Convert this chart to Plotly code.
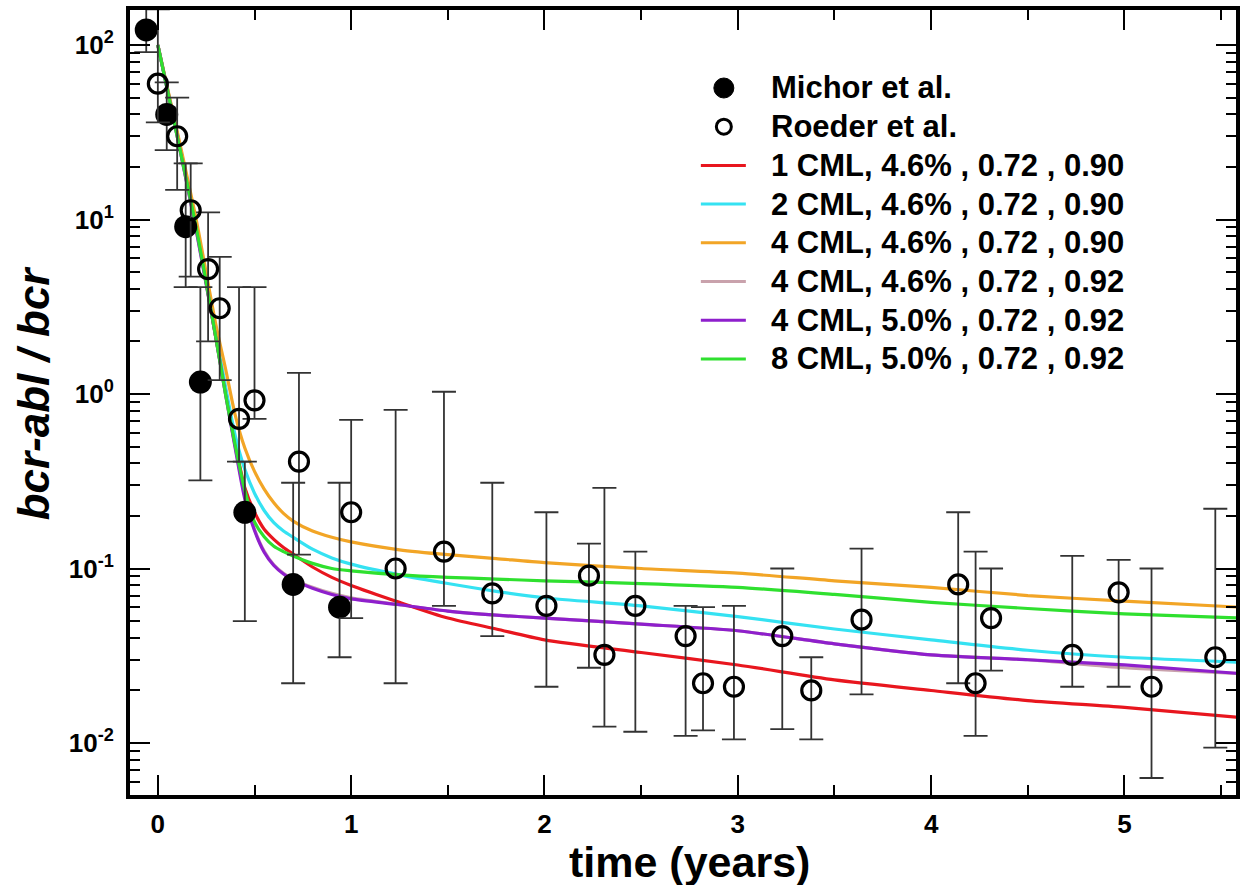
import plotly.graph_objects as go

# ---- measured data (time in years, bcr-abl / bcr ratio) ----
michor_t = [-0.06, 0.046, 0.144, 0.22, 0.45, 0.70, 0.94]
michor_y = [122, 40, 9.1, 1.17, 0.21, 0.081, 0.060]
michor_hi = [200, 61, 21, 4.1, 0.41, 0.31, 0.31]
michor_lo = [91, 25, 4.1, 0.32, 0.05, 0.022, 0.031]

roeder_t = [0.00, 0.10, 0.17, 0.26, 0.32, 0.42, 0.50, 0.73, 1.00, 1.23, 1.48, 1.73,
            2.01, 2.23, 2.31, 2.47, 2.73, 2.82, 2.98, 3.23, 3.38, 3.64, 4.14, 4.23,
            4.31, 4.73, 4.97, 5.14, 5.47]
roeder_y = [60, 30, 11.3, 5.2, 3.1, 0.72, 0.92, 0.41, 0.21, 0.10, 0.125, 0.072,
            0.061, 0.091, 0.032, 0.061, 0.041, 0.022, 0.021, 0.041, 0.020, 0.051, 0.081, 0.022,
            0.052, 0.032, 0.073, 0.021, 0.031]
roeder_hi = [160, 50, 21, 11, 6.1, 4.1, 4.1, 1.32, 0.71, 0.81, 1.03, 0.31,
             0.21, 0.139, 0.29, 0.125, 0.061, 0.060, 0.061, 0.10, 0.031, 0.13, 0.21, 0.125,
             0.10, 0.118, 0.112, 0.10, 0.22]
roeder_lo = [36, 14.8, 4.7, 2.0, 1.2, 0.41, 0.72, 0.12, 0.052, 0.022, 0.061, 0.041,
             0.021, 0.027, 0.0124, 0.0116, 0.011, 0.0118, 0.0105, 0.012, 0.0105, 0.019, 0.022, 0.011,
             0.026, 0.021, 0.021, 0.0063, 0.0094]

# ---- model curves ----
model_t = [0, 0.1, 0.2, 0.3, 0.35, 0.4, 0.45, 0.5, 0.55, 0.6, 0.65, 0.7, 0.8, 0.9, 1.0,
           1.25, 1.5, 1.75, 2.0, 2.5, 3.0, 3.5, 4.0, 4.5, 5.0, 5.6]
cml1_046_090 = [100, 31, 9.0, 2.1, 1.05, 0.52, 0.29, 0.21, 0.168, 0.147, 0.132, 0.121, 0.102, 0.089, 0.080,
                0.064, 0.052, 0.045, 0.039, 0.033, 0.028, 0.023, 0.020, 0.0175, 0.016, 0.014]
cml2_046_090 = [100, 31, 9.2, 2.2, 1.1, 0.58, 0.37, 0.27, 0.215, 0.183, 0.164, 0.151, 0.129, 0.115, 0.106,
                0.092, 0.082, 0.074, 0.068, 0.061, 0.053, 0.045, 0.039, 0.034, 0.031, 0.029]
cml4_046_090 = [100, 32, 9.8, 2.5, 1.4, 0.76, 0.49, 0.36, 0.285, 0.238, 0.207, 0.187, 0.164, 0.151, 0.142,
                0.128, 0.12, 0.114, 0.108, 0.100, 0.094, 0.085, 0.078, 0.070, 0.065, 0.060]
cml4_046_092 = [100, 30, 8.6, 2.1, 1.0, 0.50, 0.26, 0.168, 0.126, 0.105, 0.094, 0.087, 0.078, 0.072, 0.068,
                0.062, 0.057, 0.054, 0.052, 0.048, 0.044, 0.037, 0.032, 0.030, 0.027, 0.025]
cml4_050_092 = [100, 30, 8.5, 2.1, 1.0, 0.49, 0.25, 0.165, 0.124, 0.104, 0.093, 0.086, 0.077, 0.071, 0.067,
                0.062, 0.057, 0.054, 0.052, 0.048, 0.044, 0.037, 0.032, 0.030, 0.028, 0.025]
cml8_050_092 = [100, 30, 8.8, 2.1, 1.0, 0.51, 0.28, 0.185, 0.152, 0.134, 0.125, 0.118, 0.107, 0.100, 0.097,
                0.092, 0.089, 0.087, 0.085, 0.082, 0.078, 0.071, 0.064, 0.059, 0.055, 0.052]

curves = [
    ("4 CML, 4.6% , 0.72 , 0.92", cml4_046_092, "#c9a2ac"),
    ("1 CML, 4.6% , 0.72 , 0.90", cml1_046_090, "#e8161e"),
    ("2 CML, 4.6% , 0.72 , 0.90", cml2_046_090, "#35e2f2"),
    ("4 CML, 4.6% , 0.72 , 0.90", cml4_046_090, "#f2a526"),
    ("4 CML, 5.0% , 0.72 , 0.92", cml4_050_092, "#8e1fcc"),
    ("8 CML, 5.0% , 0.72 , 0.92", cml8_050_092, "#2fe02f"),
]
legend_order = [
    "Michor et al.", "Roeder et al.",
    "1 CML, 4.6% , 0.72 , 0.90", "2 CML, 4.6% , 0.72 , 0.90", "4 CML, 4.6% , 0.72 , 0.90",
    "4 CML, 4.6% , 0.72 , 0.92", "4 CML, 5.0% , 0.72 , 0.92", "8 CML, 5.0% , 0.72 , 0.92",
]

FONT = "Liberation Sans, Arial, sans-serif"
W, H = 1241, 885
ML, MR, MT, MB = 130, 1, 10, 90
PW, PH = W - ML - MR, H - MT - MB


def px_to_paper(px, py):
    return (px - ML) / PW, (H - MB - py) / PH


fig = go.Figure()

for name, vals, col in curves:
    fig.add_trace(go.Scatter(
        x=model_t, y=vals, mode="lines", name=name,
        line=dict(color=col, width=3.2, shape="spline", smoothing=0.7),
    ))

err_style = dict(type="data", symmetric=False, color="#333333", thickness=1.8, width=12)

fig.add_trace(go.Scatter(
    x=michor_t, y=michor_y, mode="markers", name="Michor et al.",
    marker=dict(symbol="circle", size=23, color="black"),
    error_y=dict(array=[h - v for h, v in zip(michor_hi, michor_y)],
                 arrayminus=[v - l for v, l in zip(michor_y, michor_lo)], **err_style),
))
fig.add_trace(go.Scatter(
    x=roeder_t, y=roeder_y, mode="markers", name="Roeder et al.",
    marker=dict(symbol="circle-open", size=19, color="black", line=dict(width=3.2, color="black")),
    error_y=dict(array=[h - v for h, v in zip(roeder_hi, roeder_y)],
                 arrayminus=[v - l for v, l in zip(roeder_y, roeder_lo)], **err_style),
))

# ---- legend block: key symbol + label per entry ----
curve_colors = {name: col for name, _, col in curves}
row0, row_step = 88, 38.7
key_x, text_x = 726, 771
for i, label in enumerate(legend_order):
    yrow = row0 + i * row_step
    kx, ky = px_to_paper(key_x, yrow)
    if label == "Michor et al.":
        fig.add_shape(type="circle", xref="paper", yref="paper", xsizemode="pixel", ysizemode="pixel",
                      xanchor=kx, yanchor=ky, x0=-10, x1=10, y0=-10, y1=10,
                      fillcolor="black", line=dict(color="black", width=1))
    elif label == "Roeder et al.":
        fig.add_shape(type="circle", xref="paper", yref="paper", xsizemode="pixel", ysizemode="pixel",
                      xanchor=kx, yanchor=ky, x0=-7.5, x1=7.5, y0=-7.5, y1=7.5,
                      fillcolor="rgba(0,0,0,0)", line=dict(color="black", width=3))
    else:
        fig.add_shape(type="line", xref="paper", yref="paper", xsizemode="pixel",
                      xanchor=kx, x0=-23, x1=22, y0=ky, y1=ky,
                      line=dict(color=curve_colors[label], width=3))
    tx, ty = px_to_paper(text_x, yrow)
    fig.add_annotation(x=tx, y=ty, xref="paper", yref="paper", xanchor="left", yanchor="middle",
                       text="<b>%s</b>" % label, showarrow=False,
                       font=dict(size=31, family=FONT, color="black"))

# ---- axis titles ----
xt, yt = px_to_paper(692, 862)
fig.add_annotation(x=xt, y=yt, xref="paper", yref="paper", xanchor="center", yanchor="middle",
                   text="<b>time (years)</b>", showarrow=False,
                   font=dict(size=43, family=FONT, color="black"))
xt, yt = px_to_paper(33, 393)
fig.add_annotation(x=xt, y=yt, xref="paper", yref="paper", xanchor="center", yanchor="middle",
                   text="<b><i>bcr-abl / bcr</i></b>", showarrow=False, textangle=-90,
                   font=dict(size=44, family=FONT, color="black"))

fig.update_layout(
    width=W, height=H,
    margin=dict(l=ML, r=MR, t=MT, b=MB),
    paper_bgcolor="white", plot_bgcolor="white",
    font=dict(family=FONT, color="black"),
    showlegend=False,
)

fig.update_xaxes(
    range=[-0.144, 5.577], showgrid=False, zeroline=False,
    showline=True, linewidth=4, linecolor="black", mirror="allticks",
    ticks="inside", ticklen=20, tickwidth=2, tickcolor="black",
    tickvals=[0, 1, 2, 3, 4, 5], ticktext=["<b>%d</b>" % v for v in range(6)],
    tickfont=dict(size=26, family=FONT),
    ticklabelstandoff=3,
    minor=dict(dtick=0.5, ticks="inside", ticklen=10, tickwidth=2, tickcolor="black", showgrid=False),
)

fig.update_yaxes(
    type="log", range=[-2.298, 2.2006], showgrid=False, zeroline=False,
    showline=True, linewidth=4, linecolor="black", mirror="allticks",
    ticks="inside", ticklen=20, tickwidth=2, tickcolor="black",
    tickvals=[0.01, 0.1, 1, 10, 100],
    ticktext=["<b>10<sup>-2</sup></b>", "<b>10<sup>-1</sup></b>", "<b>10<sup>0</sup></b>",
              "<b>10<sup>1</sup></b>", "<b>10<sup>2</sup></b>"],
    tickfont=dict(size=26, family=FONT),
    ticklabelstandoff=7,
    minor=dict(dtick="D1", ticks="inside", ticklen=10, tickwidth=2, tickcolor="black", showgrid=False),
)

fig.write_html("out.html")
